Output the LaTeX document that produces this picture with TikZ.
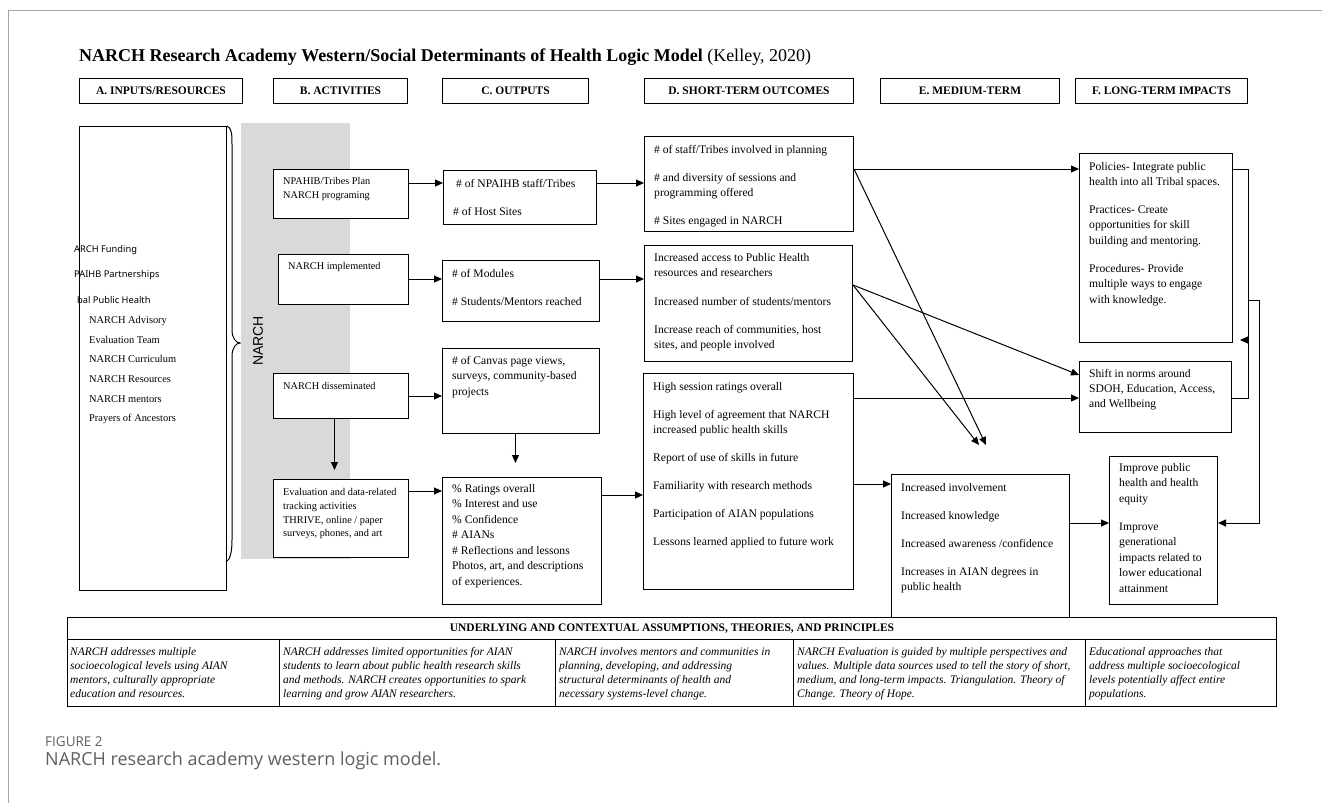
\documentclass[tikz,border=0pt]{standalone}
\usepackage{fontspec}
\setmainfont{Liberation Serif}
\newfontfamily\sansA{Noto Sans}
\newfontfamily\arialf{Liberation Sans}
\newfontfamily\capf{Open Sans}
\usetikzlibrary{arrows.meta}
\definecolor{band}{RGB}{217,217,217}
\definecolor{framec}{RGB}{165,165,165}
\definecolor{capc}{RGB}{95,95,95}
\newcommand\fsz[2]{\fontsize{#1}{#2}\selectfont}
\begin{document}
\begin{tikzpicture}[x=1pt,y=-1pt,
 bx/.style={draw, line width=1pt, fill=white, inner sep=0pt, anchor=north west},
 hdr/.style={bx, font=\fsz{11.5}{13}\bfseries},
 tx/.style={anchor=north west, inner sep=0pt, align=left, font=\fsz{11.6}{15}},
 txs/.style={anchor=north west, inner sep=0pt, align=left, font=\fsz{10.3}{13.8}},
 txi/.style={anchor=north west, inner sep=0pt, align=left, font=\fsz{11.5}{14}\itshape},
 arr/.style={-{Triangle[length=8pt,width=7pt]}, line width=1pt},
 ln/.style={line width=1pt},
]
\useasboundingbox (0,0) rectangle (1322,803);
\fill[white] (0,0) rectangle (1322,803);
\draw[framec, line width=1pt] (8,803) -- (8,10) -- (1322,10);

% title
\node[anchor=base west, inner sep=0pt, font=\fsz{18}{20}] (title) at (79,61)
  {\textbf{NARCH Research Academy Western/Social Determinants of Health Logic Model} (Kelley, 2020)};

% headers
\node[hdr, minimum width=163pt, minimum height=25pt] (hA) at (79,78) {A. INPUTS/RESOURCES};
\node[hdr, minimum width=134pt, minimum height=25pt] (hB) at (273,78) {B. ACTIVITIES};
\node[hdr, minimum width=146pt, minimum height=25pt] (hC) at (442,78) {C. OUTPUTS};
\node[hdr, minimum width=209pt, minimum height=25pt] (hD) at (644,78) {D. SHORT-TERM OUTCOMES};
\node[hdr, minimum width=179pt, minimum height=25pt] (hE) at (880,78) {E. MEDIUM-TERM};
\node[hdr, minimum width=172pt, minimum height=25pt] (hF) at (1075,78) {F. LONG-TERM IMPACTS};

% inputs
\node[bx, minimum width=147pt, minimum height=464pt] (inp) at (79,126) {};
\draw[ln] (inp.north east) .. controls (232,128) and (232,135) .. (232,145) -- (232,330)
  .. controls (232,338) and (236,343) .. (240,343)
  .. controls (236,343) and (232,348) .. (232,356) -- (232,540)
  .. controls (232,552) and (230,560) .. (226,562);
\node[anchor=base west, inner sep=0pt, font=\sansA\fsz{9.3}{11}] (i1) at (74,252.5) {ARCH Funding};
\node[anchor=base west, inner sep=0pt, font=\sansA\fsz{9.3}{11}] (i2) at (74,277.5) {PAIHB Partnerships};
\node[anchor=base west, inner sep=0pt, font=\sansA\fsz{9.3}{11}] (i3) at (77,303.5) {bal Public Health};
\node[tx, font=\fsz{10.4}{19.6}] (i4) at (89,316.3) {NARCH Advisory\\Evaluation Team\\NARCH Curriculum\\NARCH Resources\\NARCH mentors\\Prayers of Ancestors};

% band
\fill[band] (241,123) rectangle (350,559);
\node[rotate=90, font=\arialf\fsz{14}{16}, inner sep=0pt] (narch) at (258,341) {NARCH};

% activities
\node[bx, minimum width=135pt, minimum height=49pt] (B1) at (273,169) {};
\node[bx, minimum width=130pt, minimum height=50pt] (B2) at (278,254) {};
\node[bx, minimum width=135pt, minimum height=45pt] (B3) at (273,373) {};
\node[bx, minimum width=135pt, minimum height=78pt] (B4) at (273,479) {};
\node[txs] (tB1) at (283,177.2) {NPAHIB/Tribes Plan\\NARCH programing};
\node[txs] (tB2) at (288,262.2) {NARCH implemented};
\node[txs] (tB3) at (283,382.2) {NARCH disseminated};
\node[txs] (tB4) at (283,488.2) {Evaluation and data-related\\tracking activities\\THRIVE, online / paper\\surveys, phones, and art};

% outputs
\node[bx, minimum width=153pt, minimum height=54pt] (C1) at (443,170) {};
\node[bx, minimum width=157pt, minimum height=61pt] (C2) at (442,260) {};
\node[bx, minimum width=157pt, minimum height=85pt] (C3) at (442,348) {};
\node[bx, minimum width=159pt, minimum height=127pt] (C4) at (442,477) {};
\node[tx] (tC1) at (453,178.8) {\hspace*{3pt}\# of NPAIHB staff/Tribes\\[13pt]\# of Host Sites};
\node[tx] (tC2) at (452,268.8) {\# of Modules\\[13pt]\# Students/Mentors reached};
\node[tx, font=\fsz{11.6}{15.5}] (tC3) at (452,355.8) {\# of Canvas page views,\\surveys, community-based\\projects};
\node[tx, font=\fsz{11.6}{15.5}] (tC4) at (452,483.8) {\% Ratings overall\\\% Interest and use\\\% Confidence\\\# AIANs\\\# Reflections and lessons\\Photos, art, and descriptions\\of experiences.};

% short-term
\node[bx, minimum width=209pt, minimum height=95pt] (D1) at (644,136) {};
\node[bx, minimum width=208pt, minimum height=116pt] (D2) at (644,245) {};
\node[bx, minimum width=210pt, minimum height=216pt] (D3) at (643,373) {};
\node[tx] (tD1) at (654,144.8) {\# of staff/Tribes involved in planning\\[13pt]\# and diversity of sessions and\\programming offered\\[13pt]\# Sites engaged in NARCH};
\node[tx] (tD2) at (654,252.8) {Increased access to Public Health\\resources and researchers\\[14pt]Increased number of students/mentors\\[13pt]Increase reach of communities, host\\sites, and people involved};
\node[tx] (tD3) at (653,381.8) {High session ratings overall\\[13pt]High level of agreement that NARCH\\increased public health skills\\[13pt]Report of use of skills in future\\[13pt]Familiarity with research methods\\[13pt]Participation of AIAN populations\\[13pt]Lessons learned applied to future work};

% long-term
\node[bx, minimum width=153pt, minimum height=189pt] (F1) at (1079,153) {};
\node[bx, minimum width=152pt, minimum height=71pt] (F2) at (1079,361) {};
\node[tx, font=\fsz{11.6}{15.3}] (tF1) at (1089,161.8) {Policies- Integrate public\\health into all Tribal spaces.\\[13pt]Practices- Create\\opportunities for skill\\building and mentoring.\\[13pt]Procedures- Provide\\multiple ways to engage\\with knowledge.};
\node[tx] (tF2) at (1089,368.8) {Shift in norms around\\SDOH, Education, Access,\\and Wellbeing};

% medium-term
\node[bx, minimum width=178pt, minimum height=143pt] (E) at (891,474) {};
\node[tx] (tE) at (901,482.8) {Increased involvement\\[13pt]Increased knowledge\\[13pt]Increased awareness /confidence\\[13pt]Increases in AIAN degrees in\\public health};
\node[bx, minimum width=108pt, minimum height=148pt] (G) at (1109,456) {};
\node[tx, font=\fsz{11.6}{15.5}] (tG) at (1119,462.8) {Improve public\\health and health\\equity\\[12.5pt]Improve\\generational\\impacts related to\\lower educational\\attainment};

% table
\node[bx, minimum width=1209pt, minimum height=22pt, font=\fsz{11.5}{13}\bfseries] (th) at (67,617) {UNDERLYING AND CONTEXTUAL ASSUMPTIONS, THEORIES, AND PRINCIPLES};
\node[bx, minimum width=212pt, minimum height=67pt] (c1) at (67,639) {};
\node[bx, minimum width=276pt, minimum height=67pt] (c2) at (279,639) {};
\node[bx, minimum width=238pt, minimum height=67pt] (c3) at (555,639) {};
\node[bx, minimum width=292pt, minimum height=67pt] (c4) at (793,639) {};
\node[bx, minimum width=191pt, minimum height=67pt] (c5) at (1085,639) {};
\node[txi] (tc1) at (70,646.9) {NARCH addresses multiple\\socioecological levels using AIAN\\mentors, culturally appropriate\\education and resources.};
\node[txi] (tc2) at (283,646.9) {NARCH addresses limited opportunities for AIAN\\students to learn about public health research skills\\and methods. NARCH creates opportunities to spark\\learning and grow AIAN researchers.};
\node[txi] (tc3) at (559,646.9) {NARCH involves mentors and communities in\\planning, developing, and addressing\\structural determinants of health and\\necessary systems-level change.};
\node[txi] (tc4) at (797,646.9) {NARCH Evaluation is guided by multiple perspectives and\\values. Multiple data sources used to tell the story of short,\\medium, and long-term impacts. Triangulation. Theory of\\Change. Theory of Hope.};
\node[txi] (tc5) at (1089,646.9) {Educational approaches that\\address multiple socioecological\\levels potentially affect entire\\populations.};

% connectors
\draw[arr] ([yshift=-14pt]B1.north east) -- ([yshift=-13pt]C1.north west);
\draw[arr] ([yshift=-13pt]C1.north east) -- ([yshift=-47pt]D1.north west);
\draw[arr] ([yshift=-25pt]B2.north east) -- ([yshift=-19pt]C2.north west);
\draw[arr] ([yshift=-19pt]C2.north east) -- ([yshift=-34pt]D2.north west);
\draw[arr] ([yshift=-23pt]B3.north east) -- ([yshift=-48pt]C3.north west);
\draw[arr] ([xshift=-6.5pt]B3.south) -- ([xshift=-6.5pt,yshift=9pt]B4.north);
\draw[arr] ([xshift=-5.5pt]C3.south) -- ([xshift=-6.5pt,yshift=14pt]C4.north);
\draw[arr] ([yshift=-12pt]B4.north east) -- ([yshift=-14pt]C4.north west);
\draw[arr] ([yshift=-18pt]C4.north east) -- ([yshift=-122pt]D3.north west);
\draw[arr] ([yshift=-33pt]D1.north east) -- ([yshift=-16pt]F1.north west);
\coordinate (e1) at (986,445);
\coordinate (e2) at (979,445);
\draw[arr] ([yshift=-33pt]D1.north east) -- (e1);
\draw[arr] ([yshift=-40pt]D2.north east) -- ([yshift=-14pt]F2.north west);
\draw[arr] ([yshift=-40pt]D2.north east) -- (e2);
\draw[arr] ([yshift=-25pt]D3.north east) -- ([yshift=-37pt]F2.north west);
\draw[arr] ([yshift=-111pt]D3.north east) -- ([yshift=-10pt]E.north west);
\draw[arr] ([yshift=-49pt]E.north east) -- ([yshift=-67pt]G.north west);
\draw[ln] ([yshift=-16pt]F1.north east) -- ++(15,0) |- ([yshift=-37pt]F2.north east);
\draw[arr] ([xshift=15pt,yshift=3pt]F1.south east) -- ([xshift=7pt,yshift=3pt]F1.south east);
\draw[arr] ([xshift=15pt,yshift=-147pt]F1.north east) -- ++(11,0) |- ([yshift=-67pt]G.north east);

% caption
\node[anchor=base west, inner sep=0pt, font=\capf\fsz{13.5}{15}, text=capc] (fig) at (45,746) {FIGURE 2};
\node[anchor=base west, inner sep=0pt, font=\capf\fsz{18}{20}, text=capc] (cap) at (45,765) {NARCH research academy western logic model.};
\end{tikzpicture}
\end{document}
